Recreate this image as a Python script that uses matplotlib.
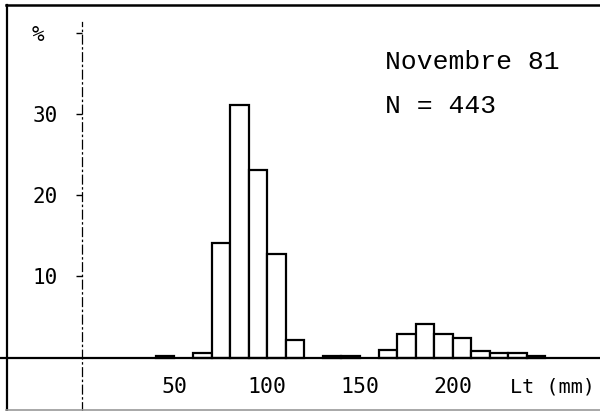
import matplotlib
matplotlib.use("Agg")
import matplotlib.pyplot as plt
from matplotlib.lines import Line2D

# Data: length classes (left edge, mm) and percentages
bin_left = [40, 60, 70, 80, 90, 100, 110, 130, 140,
            160, 170, 180, 190, 200, 210, 220, 230, 240]
percent = [0.2, 0.5, 14.1, 31.1, 23.1, 12.7, 2.2, 0.2, 0.2,
           0.9, 2.9, 4.1, 2.9, 2.4, 0.8, 0.5, 0.5, 0.2]
bin_width = 10
x_ticks = [50, 100, 150, 200]
x_ticklabels = ["50", "100", "150", "200"]
y_ticks = [10, 20, 30, 40]
y_ticklabels = ["10", "20", "30", "% "]
title_text = "Novembre 81"
n_text = "N = 443"
x_unit = "Lt (mm)"

W, H = 600, 411
fig = plt.figure(figsize=(W / 100, H / 100), dpi=100)
ax = fig.add_axes([0, 0, 1, 1])
ax.set_facecolor("white")

px_per_mm = 1.855
x0_px = 81.7
px_per_pct = 8.12
y0_px = 357.5
ax.set_xlim(-x0_px / px_per_mm, (W - x0_px) / px_per_mm)
ax.set_ylim(-(H - y0_px) / px_per_pct, y0_px / px_per_pct)

ax.bar(bin_left, percent, width=bin_width, align="edge",
       facecolor="white", edgecolor="black", linewidth=1.6, zorder=3)

# spines
ax.spines["top"].set_visible(False)
ax.spines["right"].set_visible(False)
ax.spines["left"].set_position(("data", 0))
ax.spines["left"].set_linestyle((0, (7, 3, 1, 3)))
ax.spines["left"].set_linewidth(0.9)
ax.spines["left"].set_bounds(ax.get_ylim()[0], (y0_px - 22) / px_per_pct)
ax.spines["bottom"].set_position(("data", 0))
ax.spines["bottom"].set_linewidth(1.6)
ax.spines["bottom"].set_zorder(4)

mono = "DejaVu Sans Mono"
ax.set_yticks(y_ticks)
ax.set_yticklabels(y_ticklabels, fontfamily=mono, fontsize=15)
ax.tick_params(axis="y", direction="out", length=4.5, width=1.0, pad=13)
ax.set_xticks(x_ticks)
ax.set_xticklabels(x_ticklabels, fontfamily=mono, fontsize=15.5)
ax.tick_params(axis="x", length=0, pad=14)

ax.text(254, -(386.5 - y0_px) / px_per_pct, x_unit, fontfamily=mono,
        fontsize=14.5, ha="center", va="center")

ax.text(163.5, (y0_px - 62) / px_per_pct, title_text, fontfamily="Liberation Mono",
        fontsize=19, ha="left", va="center")
ax.text(163.5, (y0_px - 106) / px_per_pct, n_text, fontfamily="Liberation Mono",
        fontsize=19, ha="left", va="center")

# frame of the scanned figure
def px_line(xs, ys, color, lw):
    fig.add_artist(Line2D([x / W for x in xs], [1 - y / H for y in ys],
                          transform=fig.transFigure, color=color, linewidth=lw))

px_line([7, 7], [5, 410], "black", 1.6)
px_line([6, 600], [5.5, 5.5], "black", 1.8)
px_line([6, 600], [409.5, 409.5], "#999999", 1.2)

fig.savefig("out.png", dpi=100)
